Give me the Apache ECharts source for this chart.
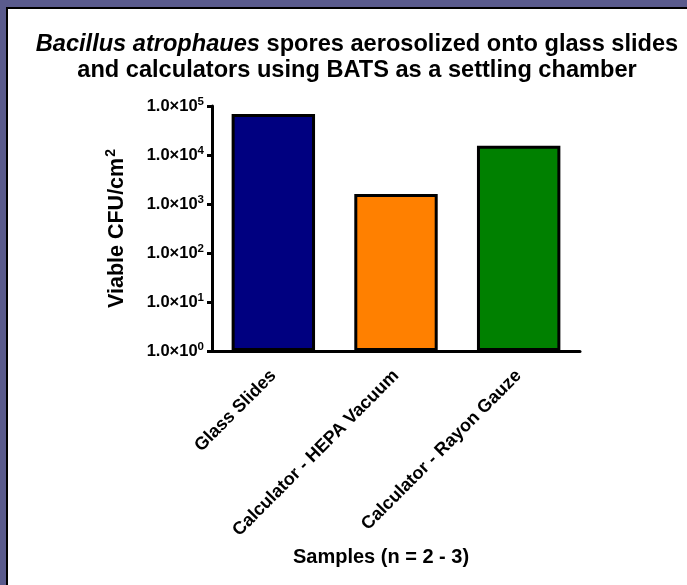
<!DOCTYPE html>
<html>
<head>
<meta charset="utf-8">
<script src="https://cdn.jsdelivr.net/npm/echarts@6/dist/echarts.min.js"></script>
<style>
  html, body { margin: 0; padding: 0; }
  body { width: 687px; height: 585px; background: #5a5b8d; position: relative; overflow: hidden; }
  #panel { position: absolute; left: 6px; top: 7px; right: 0; bottom: 0; background: #fff;
           border-left: 2px solid #000; border-top: 2px solid #000; }
  #chart { position: absolute; left: 0; top: 0; width: 687px; height: 585px; }
</style>
</head>
<body>
<div id="panel"></div>
<div id="chart"></div>
<script>
var categories = ['Glass Slides', 'Calculator - HEPA Vacuum', 'Calculator - Rayon Gauze'];
var cfuValues = [69000, 1600, 15500];
var barColors = ['#000080', '#ff8000', '#008000'];

var font = 'Arial, "Liberation Sans", sans-serif';

var chart = echarts.init(document.getElementById('chart'), null, { renderer: 'canvas' });

chart.setOption({
  animation: false,
  backgroundColor: 'transparent',
  graphic: [{
    type: 'text',
    x: 357,
    y: 31,
    style: {
      text: '{i|Bacillus atrophaues}{n| spores aerosolized onto glass slides}\n{n|and calculators using BATS as a settling chamber}',
      align: 'center',
      fontFamily: font,
      rich: {
        i: { fontSize: 23.6, fontWeight: 'bold', fontStyle: 'italic', fontFamily: font, lineHeight: 26, fill: '#000' },
        n: { fontSize: 23.6, fontWeight: 'bold', fontFamily: font, lineHeight: 26, fill: '#000' }
      }
    }
  }],
  grid: { left: 212, right: 107, top: 106, bottom: 234, containLabel: false },
  xAxis: {
    type: 'category',
    data: categories,
    name: 'Samples (n = 2 - 3)',
    nameLocation: 'middle',
    nameGap: 196,
    nameTextStyle: { fontSize: 20, fontWeight: 'bold', fontFamily: font, color: '#000', padding: [0, 30, 0, 0] },
    axisLine: { lineStyle: { color: '#000', width: 3 } },
    axisTick: { alignWithLabel: true, length: 7, lineStyle: { color: '#000', width: 3 } },
    axisLabel: { interval: 0, rotate: 45, margin: 22, fontSize: 18, fontWeight: 'bold', fontFamily: font, color: '#000' }
  },
  yAxis: {
    type: 'log',
    logBase: 10,
    min: 1,
    max: 100000,
    name: '{a|Viable CFU/cm}{s|2}',
    nameLocation: 'middle',
    nameGap: 81,
    nameTextStyle: {
      rich: {
        a: { fontSize: 21.5, fontWeight: 'bold', fontFamily: font, color: '#000' },
        s: { fontSize: 14, fontWeight: 'bold', fontFamily: font, color: '#000', padding: [0, 0, 13, 1] }
      }
    },
    splitLine: { show: false },
    axisLine: { show: true, lineStyle: { color: '#000', width: 3 } },
    axisTick: { show: true, length: 5, lineStyle: { color: '#000', width: 3 } },
    axisLabel: {
      margin: 8,
      formatter: function (v) {
        var e = Math.round(Math.log(v) / Math.LN10);
        return '{b|1.0×10}{s|' + e + '}';
      },
      rich: {
        b: { fontSize: 16.5, fontWeight: 'bold', fontFamily: font, color: '#000' },
        s: { fontSize: 11.5, fontWeight: 'bold', fontFamily: font, color: '#000', padding: [0, 0, 9, 0] }
      }
    }
  },
  series: [{
    type: 'bar',
    barWidth: '68%',
    data: cfuValues.map(function (v, i) {
      return { value: v, itemStyle: { color: barColors[i] } };
    }),
    itemStyle: { borderColor: '#000', borderWidth: 3 }
  }]
});
</script>
</body>
</html>
